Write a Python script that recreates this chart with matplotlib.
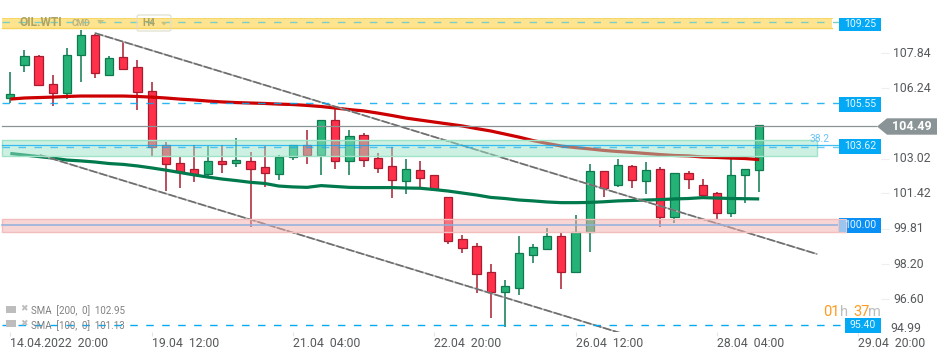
import matplotlib
matplotlib.use('Agg')
import matplotlib.pyplot as plt
from matplotlib.patches import Rectangle, FancyBboxPatch, Polygon
from matplotlib.transforms import Affine2D, ScaledTranslation

plt.rcParams['font.family'] = ['Roboto', 'DejaVu Sans']

opens = [105.80, 107.29, 107.70, 106.42, 106.00, 107.74, 108.66, 106.83, 107.65, 107.19,
         106.10, 103.64, 102.80, 102.53, 102.31, 102.89, 102.83, 102.89, 102.62, 102.33,
         103.08, 103.64, 103.18, 104.77, 102.92, 104.08, 103.03, 102.66, 102.00, 102.48,
         102.25, 101.24, 99.32, 99.00, 97.81, 96.92, 97.11, 98.62, 98.89, 99.46,
         97.81, 99.67, 102.43, 101.82, 102.66, 101.98, 102.53, 100.33, 102.34, 101.79,
         101.43, 100.51, 102.25, 102.48]
highs = [106.98, 107.99, 107.76, 106.84, 108.08, 108.90, 108.72, 107.71, 108.34, 107.53,
         106.52, 103.78, 103.13, 103.64, 103.59, 103.62, 103.96, 103.32, 103.59, 103.17,
         103.64, 104.33, 104.78, 105.42, 104.33, 104.20, 103.26, 103.53, 103.00, 102.91,
         102.25, 101.24, 99.52, 99.15, 98.19, 97.46, 99.47, 99.11, 99.84, 99.66,
         100.43, 102.77, 102.43, 103.00, 102.71, 102.86, 102.62, 102.34, 102.43, 102.08,
         101.49, 102.98, 102.53, 104.54]
lows = [105.56, 106.99, 106.37, 105.44, 105.76, 106.54, 106.72, 106.83, 107.09, 105.25,
        103.10, 101.53, 101.68, 101.96, 102.19, 102.36, 102.65, 99.90, 101.73, 102.04,
        102.95, 102.77, 102.28, 102.55, 102.28, 102.65, 102.37, 101.23, 101.41, 101.66,
        101.61, 99.12, 98.71, 96.86, 95.73, 95.31, 96.77, 98.25, 98.83, 97.05,
        97.81, 98.75, 101.27, 101.73, 101.68, 101.41, 99.87, 100.07, 101.61, 101.30,
        100.21, 100.33, 100.97, 101.50]
closes = [105.96, 107.70, 106.37, 106.00, 107.74, 108.66, 106.92, 107.61, 107.13, 106.05,
          103.55, 102.76, 102.42, 102.31, 102.89, 102.78, 102.94, 102.55, 102.37, 103.08,
          103.62, 103.18, 104.77, 102.92, 104.04, 102.97, 102.60, 102.05, 102.53, 102.14,
          101.61, 99.26, 98.94, 97.75, 96.92, 97.17, 98.68, 98.96, 99.46, 97.81,
          99.67, 102.43, 101.68, 102.71, 102.02, 102.48, 100.33, 102.34, 102.07, 101.36,
          100.51, 102.25, 102.53, 104.54]

sma_200 = [105.74, 105.79, 105.81, 105.83, 105.86, 105.88, 105.88, 105.88, 105.88, 105.86,
           105.83, 105.79, 105.74, 105.70, 105.65, 105.61, 105.58, 105.56, 105.54, 105.51,
           105.49, 105.45, 105.40, 105.33, 105.26, 105.20, 105.10, 104.99, 104.87, 104.78,
           104.69, 104.60, 104.51, 104.39, 104.28, 104.14, 104.00, 103.84, 103.71, 103.59,
           103.52, 103.46, 103.39, 103.34, 103.30, 103.25, 103.20, 103.16, 103.14, 103.09,
           103.07, 103.04, 103.02, 102.97]
sma_100 = [103.25, 103.18, 103.11, 103.04, 102.95, 102.91, 102.86, 102.79, 102.75, 102.68,
           102.59, 102.49, 102.38, 102.27, 102.17, 102.08, 102.01, 101.93, 101.88, 101.76,
           101.72, 101.70, 101.78, 101.74, 101.70, 101.69, 101.69, 101.69, 101.67, 101.66,
           101.60, 101.53, 101.44, 101.35, 101.24, 101.19, 101.12, 101.08, 101.03, 101.00,
           101.00, 101.01, 101.04, 101.08, 101.10, 101.12, 101.14, 101.17, 101.19, 101.23,
           101.21, 101.19, 101.18, 101.17]

y_ticks = [107.84, 106.24, 103.02, 101.42, 99.81, 98.20, 96.60]
x_tick_pos = [0, 10, 20, 30, 40, 50, 60]
x_tick_labels = ['14.04.2022  20:00', '19.04  12:00', '21.04  04:00', '22.04  20:00',
                 '26.04  12:00', '28.04  04:00', '29.04  20:00']

upper_trend_x = [6, 57.08]
upper_trend_y = [108.76, 98.65]
lower_trend_x = [2.1, 43.15]
lower_trend_y = [103.18, 95.04]

RED = '#FF304A'
RED_DARK = '#A81C30'
GREEN = '#25B276'
GREEN_DARK = '#0E7A50'
BLUE = '#03A9F4'
GREY = '#8A9496'
TEXT = '#55595C'

fig = plt.figure(figsize=(9.5, 3.58), dpi=100)
ax = fig.add_axes([0, 26 / 358, 881 / 950, 332 / 358])
ax.set_xlim(-0.729, 61.62)
ax.set_ylim(95.08, 110.275)
for s in ax.spines.values():
    s.set_visible(False)

# pixel coordinates of the picture, for the small furniture around the plot
px = Affine2D().scale(1 / 950, -1 / 358).translate(0, 1) + fig.transFigure

# candles
for i in range(len(opens)):
    up = closes[i] >= opens[i]
    ax.vlines(i, lows[i], highs[i], color=GREEN_DARK if up else RED_DARK, lw=1.1, zorder=2)
    ax.bar(i, abs(closes[i] - opens[i]), 0.58, bottom=min(opens[i], closes[i]),
           color=GREEN if up else RED, edgecolor=GREEN_DARK if up else RED_DARK,
           linewidth=0.9, zorder=3)

ax.plot(range(len(sma_200)), sma_200, color='#CC0000', lw=2.3, zorder=4, solid_capstyle='butt')
ax.plot(range(len(sma_100)), sma_100, color='#007A4D', lw=2.3, zorder=4, solid_capstyle='butt')

# trend channel
for tx, ty in ((upper_trend_x, upper_trend_y), (lower_trend_x, lower_trend_y)):
    ax.plot(tx, ty, color='#B4B4B4', lw=1.1, zorder=4.5)
    ax.plot(tx, ty, color='#6E6E6E', lw=1.2, ls=(0, (5, 1.2)), zorder=4.6)

# zones
ax.fill_between([-0.587, 58.13], 108.98, 109.44, color='#FFE48F', lw=0, zorder=5)
ax.plot([-0.587, 58.13], [108.98, 108.98], color='#F5D45E', lw=1, zorder=5.1)
ax.plot([-0.587, 58.13], [109.44, 109.44], color='#F5D45E', lw=0.6, zorder=5.1)
ax.add_patch(Rectangle((-0.587, 103.14), 57.68, 0.72, fc='#9BE5C9', ec='none', alpha=0.5, zorder=5))
ax.add_patch(Rectangle((-0.587, 103.14), 57.68, 0.72, fc='none', ec='#A0E4C8', lw=1, zorder=5.1))
ax.add_patch(Rectangle((-0.587, 99.67), 59.7, 0.57, fc='#F5AFAF', ec='none', alpha=0.5, zorder=5))
ax.add_patch(Rectangle((-0.587, 99.67), 59.7, 0.57, fc='none', ec='#F2BDBD', lw=1, zorder=5.1))

# levels
dash = (0, (5.4, 6.1))
ax.plot([-0.587, 59.0], [109.25, 109.25], color='#7CCFC0', lw=1, ls=dash, zorder=6)
ax.plot([-0.587, 59.0], [105.55, 105.55], color=BLUE, lw=1, ls=dash, zorder=6, alpha=0.85)
ax.plot([-0.587, 59.0], [103.55, 103.55], color=BLUE, lw=1, ls=dash, zorder=6, alpha=0.6)
ax.plot([-0.587, 59.0], [103.62, 103.62], color=BLUE, lw=0.9, zorder=6, alpha=0.75)
ax.plot([-0.587, 59.0], [100.0, 100.0], color='#8FB0DC', lw=1.1, zorder=6)
ax.plot([-0.587, 59.4], [95.40, 95.40], color=BLUE, lw=1, ls=dash, zorder=6)
ax.plot([-0.587, 61.3], [104.49, 104.49], color=GREY, lw=0.9, zorder=6)

# axes ticks
ax.yaxis.tick_right()
ax.set_yticks(y_ticks)
ax.set_yticklabels([f'{v:.2f}' for v in y_ticks])
ax.tick_params(axis='y', length=6, width=0.8, color='#EEEEEE', labelcolor=TEXT, labelsize=8.8, pad=3)
up_1px = ScaledTranslation(0, 1.2 / 100, fig.dpi_scale_trans)
for lab in ax.get_yticklabels():
    lab.set_transform(lab.get_transform() + up_1px)
ax.set_xticks(x_tick_pos)
ax.set_xticklabels(x_tick_labels, ha='left')
ax.tick_params(axis='x', length=3, width=0.8, color='#E4E4E4', labelcolor=TEXT, labelsize=8.8, pad=0.5)
ax.text(890, 328, '94.99', transform=px, color=TEXT, fontsize=8.8, va='center', ha='left')

# price boxes
boxes = [('109.25', 839, 18, 30.7, BLUE), ('105.55', 839, 97, 111.7, BLUE),
         ('103.62', 839, 139, 153.7, BLUE), ('100.00', 839, 218, 232.7, '#0A8FF5'),
         ('95.40', 845, 318, 332.7, BLUE)]
for label, x0, y0, y1, col in boxes:
    ax.add_patch(Rectangle((x0, y0), 881 - x0, y1 - y0, transform=px, fc=col, ec='none',
                           clip_on=False, zorder=7))
    ax.text((x0 + 881) / 2, (y0 + y1) / 2 - 0.5, label, transform=px, color='#E8F6FF', fontsize=7.6,
            ha='center', va='center', zorder=8)
ax.add_patch(Rectangle((838, 219.3), 7.5, 12.4, transform=px, fc='#9BC4EE', ec='#F2C4C4', lw=0.8,
                       clip_on=False, zorder=7.5))
ax.add_patch(Polygon([(877, 126.5), (887, 118.3), (937, 118.3), (937, 134.7), (887, 134.7)],
                     transform=px, fc=GREY, ec='none', clip_on=False, zorder=7))
ax.text(912, 126.5, '104.49', transform=px, color='white', fontsize=9, fontweight='bold',
        ha='center', va='center', zorder=8)
ax.text(820, 138.7, '38.2', transform=px, color='#6CC4F5', fontsize=7.4, ha='center', va='center', zorder=8)

# instrument header
ax.text(20, 23, 'OIL.WTI', transform=px, color='#A9A468', fontsize=8.6, fontweight='bold',
        ha='left', va='center', zorder=8)
ax.text(72, 24, 'CMD', transform=px, color='#B8B480', fontsize=6.2, fontweight='bold',
        ha='left', va='center', zorder=8)
ax.add_patch(Polygon([(97, 20), (104, 20), (100.5, 24)], transform=px, fc='#C9C07E', ec='none', zorder=8))
ax.add_patch(FancyBboxPatch((137, 15), 34, 16, boxstyle='round,pad=0,rounding_size=2', transform=px,
                            fc='none', ec='#DEDCC8', lw=0.8, clip_on=False, zorder=8))
ax.text(142, 23.5, 'H4', transform=px, color='#A9A468', fontsize=7.4, fontweight='bold',
        ha='left', va='center', zorder=8)
ax.add_patch(Polygon([(161, 22), (167, 22), (164, 25.5)], transform=px, fc='#C9C07E', ec='none', zorder=8))

# indicator legend
for y, txt in ((311, 'SMA  [200,  0]  102.95'), (325.5, 'SMA  [100,  0]  101.13')):
    ax.add_patch(Rectangle((6, y - 5.5), 10, 7, transform=px, fc='#BDBDBD', ec='none', zorder=8))
    ax.text(23.5, y - 2, '✖', transform=px, color='#BDBDBD', fontsize=6.5, family='DejaVu Sans',
            ha='center', va='center', zorder=8)
    ax.text(31, y, txt, transform=px, color='#808080', fontsize=7, ha='left', va='center', zorder=8)

# countdown
for x, txt, col in ((823, '01', '#FF9B1E'), (840, 'h', '#BDBDBD'), (853, '37', '#FF9B1E'), (868, 'm', '#BDBDBD')):
    ax.text(x, 312.5, txt, transform=px, color=col, fontsize=10.5, ha='left', va='center', zorder=8)

fig.savefig('out.png', dpi=100)
